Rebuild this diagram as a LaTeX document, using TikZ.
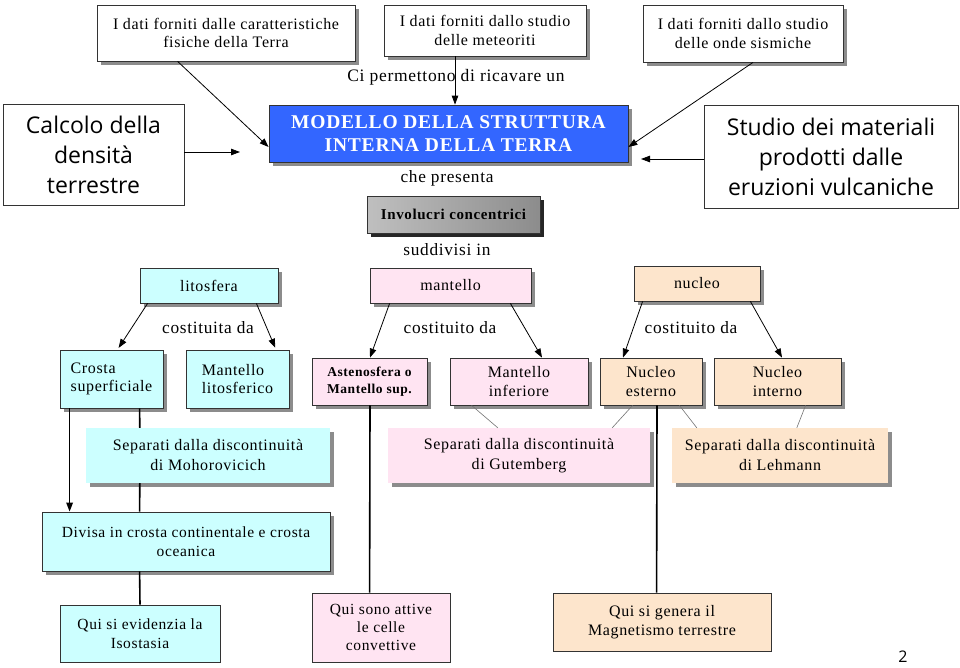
\documentclass[tikz,border=0pt]{standalone}
\usepackage{fontspec}
\setmainfont[LetterSpace=4]{Liberation Serif}
\newfontfamily\comicf{Open Sans}
\usetikzlibrary{arrows.meta,shadows}
\definecolor{bluebox}{RGB}{51,102,255}
\definecolor{cyanbox}{RGB}{204,255,255}
\definecolor{pinkbox}{RGB}{255,228,242}
\definecolor{peachbox}{RGB}{253,229,204}
\begin{document}
\begin{tikzpicture}[x=1pt,y=-1pt,
  sz/.style 2 args={minimum width=#1pt,minimum height=#2pt},
  base/.style={rectangle,inner sep=0pt,align=center,fill=white,font=\fontsize{16}{18.5}\selectfont},
  bordered/.style={base,draw=black!80,line width=0.8pt},
  shad/.style={general shadow={fill=black!45,shadow xshift=3.5pt,shadow yshift=-3.5pt}},
  darkshad/.style={general shadow={fill=black!85,shadow xshift=3.5pt,shadow yshift=-3.5pt}},
  comicbox/.style={bordered,font=\comicf\fontsize{23}{30}\selectfont},
  lbl/.style={inner sep=0pt,font=\fontsize{17.3}{19}\selectfont},
  sep/.style={base,font=\fontsize{16}{20}\selectfont},
  arr/.style={-{Triangle[length=9pt,width=6.5pt]},line width=0.8pt},
  blk/.style={line width=1.6pt},
  gline/.style={draw=black!55,line width=0.6pt}]
\fill[white] (0,0) rectangle (960,667);
\useasboundingbox (0,0) rectangle (960,667);

% top boxes
\node[bordered,shad,sz={258}{56}] (d1) at (226,33) {I dati forniti dalle caratteristiche\\fisiche della Terra};
\node[bordered,shad,sz={202}{51}] (d2) at (485,30.5) {I dati forniti dallo studio\\delle meteoriti};
\node[bordered,shad,sz={200}{57}] (d3) at (743,33.5) {I dati forniti dallo studio\\delle onde sismiche};

\node[lbl,font=\fontsize{17.5}{19}\selectfont] (lci) at (456,77) {Ci permettono di ricavare un};

\node[bordered,shad,fill=bluebox,text=white,font=\bfseries\fontsize{19.5}{23}\selectfont,sz={359}{57}] (model) at (448.5,133.5) {MODELLO DELLA STRUTTURA\\INTERNA DELLA TERRA};

\node[comicbox,sz={181}{101}] (calc) at (93.5,154.5) {Calcolo della\\densità\\terrestre};
\node[comicbox,sz={254}{103}] (studio) at (831,156.5) {Studio dei materiali\\prodotti dalle\\eruzioni vulcaniche};
\coordinate (calcend) at (240,152);
\coordinate (studend) at (641,159);

\node[lbl] (lche) at (447,178) {che presenta};
\node[bordered,darkshad,left color=black!25,middle color=black!3,right color=black!45,font=\bfseries\fontsize{15}{18}\selectfont,sz={173}{37}] (invol) at (453.5,214.5) {Involucri concentrici};
\node[lbl] (lsud) at (447,250) {suddivisi in};

% second row
\node[bordered,shad,fill=cyanbox,sz={138}{35}] (lito) at (209,285.5) {litosfera};
\node[bordered,shad,fill=pinkbox,sz={161}{35}] (mant) at (450.5,285.5) {mantello};
\node[bordered,shad,fill=peachbox,sz={126}{35}] (nucl) at (697,283.5) {nucleo};

\node[lbl] (lcos1) at (208,328) {costituita da};
\node[lbl] (lcos2) at (450,328) {costituito da};
\node[lbl] (lcos3) at (691,328) {costituito da};

% third row
\node[bordered,shad,fill=cyanbox,align=left,sz={103}{58}] (crosta) at (111.5,379) {Crosta\\superficiale};
\node[bordered,shad,fill=cyanbox,align=left,sz={103}{58}] (mlito) at (237.5,379) {Mantello\\litosferico};
\node[bordered,shad,fill=pinkbox,font=\bfseries\fontsize{13.5}{17}\selectfont,sz={115}{47}] (asten) at (369.5,381.5) {Astenosfera o\\Mantello sup.};
\node[bordered,shad,fill=pinkbox,sz={138}{47}] (minf) at (519,381.5) {Mantello\\inferiore};
\node[bordered,shad,fill=peachbox,sz={102}{47}] (nest) at (651,381.5) {Nucleo\\esterno};
\node[bordered,shad,fill=peachbox,sz={127}{47}] (nint) at (777.5,381.5) {Nucleo\\interno};

% separation boxes
\node[sep,shad,fill=cyanbox,sz={244}{55}] (moho) at (208,455.5) {Separati dalla discontinuità\\di Mohorovicich};
\node[sep,shad,fill=pinkbox,sz={262}{55}] (gut) at (519,455.5) {Separati dalla discontinuità\\di Gutemberg};
\node[sep,shad,fill=peachbox,sz={216}{55}] (leh) at (780,455.5) {Separati dalla discontinuità\\di Lehmann};

\node[bordered,shad,fill=cyanbox,font=\fontsize{15.5}{19}\selectfont,sz={288}{59}] (divisa) at (186,541.5) {Divisa in crosta continentale e crosta\\oceanica};

% bottom boxes
\node[bordered,fill=cyanbox,font=\fontsize{15.5}{19}\selectfont,sz={160}{57}] (iso) at (140,633.5) {Qui si evidenzia la\\Isostasia};
\node[bordered,fill=pinkbox,font=\fontsize{15.5}{18}\selectfont,sz={138}{69}] (celle) at (381,627.5) {Qui sono attive\\le celle\\convettive};
\node[bordered,fill=peachbox,font=\fontsize{16}{19}\selectfont,sz={218}{58}] (magn) at (662,622) {Qui si genera il\\Magnetismo terrestre};

\node[inner sep=0pt,font=\comicf\fontsize{16}{18}\selectfont] (pnum) at (903,657) {2};

% connectors top
\draw[arr] ([xshift=81pt]d1.south west) -- ([yshift=-13.5pt]model.west);
\draw[arr] ([xshift=-30pt]d2.south) -- ([xshift=6.5pt]model.north);
\draw[arr] ([xshift=10pt]d3.south) -- ([yshift=-13.5pt]model.east);
\draw[arr] ([yshift=2.5pt]calc.east) -- (calcend);
\draw[arr] ([yshift=-2.5pt]studio.west) -- (studend);

% second row arrows
\draw[arr,shorten >=2pt] ([xshift=8pt]lito.south west) -- ([xshift=6pt]crosta.north);
\draw[arr,shorten >=2pt] ([xshift=-22pt]lito.south east) -- ([xshift=38.5pt]mlito.north);
\draw[arr] ([xshift=20pt]mant.south west) -- ([xshift=0.5pt]asten.north);
\draw[arr] ([xshift=-21pt]mant.south east) -- ([xshift=23pt]minf.north);
\draw[arr] ([xshift=9pt]nucl.south west) -- ([xshift=-28pt]nest.north);
\draw[arr] ([xshift=-10pt]nucl.south east) -- ([xshift=4.5pt]nint.north);

% black lines
\draw[blk,-{Triangle[length=9pt,width=6.5pt]}] ([xshift=10pt]crosta.south west) -- ([xshift=28pt]divisa.north west);
\draw[blk] ([xshift=80pt]crosta.south west) -- ([xshift=54pt]moho.north west);
\draw[blk] ([xshift=54pt]moho.south west) -- ([xshift=98pt]divisa.north west);
\draw[blk] ([xshift=98pt]divisa.south west) -- (iso.north);
\draw[blk] ([xshift=0.5pt]asten.south) -- ([xshift=58pt]celle.north west);
\draw[blk] ([xshift=6pt]nest.south) -- ([xshift=104pt]magn.north west);

% thin gray lines
\draw[gline] ([xshift=22pt]minf.south west) -- ([xshift=110pt]gut.north west);
\draw[gline] ([xshift=33pt]nest.south west) -- ([xshift=-38pt]gut.north east);
\draw[gline] ([xshift=-23pt]nest.south east) -- ([xshift=25pt]leh.north west);
\draw[gline] ([xshift=92pt]nint.south west) -- ([xshift=125pt]leh.north west);
\end{tikzpicture}
\end{document}
